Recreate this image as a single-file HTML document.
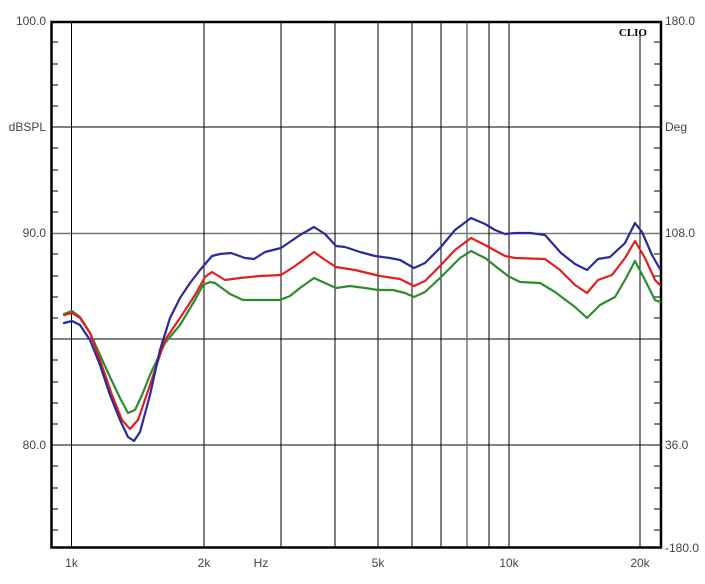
<!DOCTYPE html>
<html><head><meta charset="utf-8"><style>
body{margin:0;background:#fff;}
text{font-family:"Liberation Sans",sans-serif;font-size:12px;fill:#444;}
</style></head><body>
<svg width="705" height="579" viewBox="0 0 705 579" xmlns="http://www.w3.org/2000/svg">
<rect width="705" height="579" fill="#fff"/>
<g stroke="#000" stroke-width="1">
<line x1="51" y1="127" x2="661" y2="127"/>
<line x1="51" y1="233.5" x2="661" y2="233.5" stroke="#777" stroke-width="1.5"/>
<line x1="51" y1="339" x2="661" y2="339"/>
<line x1="51" y1="445" x2="661" y2="445"/>
<line x1="71.5" y1="21" x2="71.5" y2="548"/>
<line x1="204" y1="21" x2="204" y2="548"/>
<line x1="281" y1="21" x2="281" y2="548"/>
<line x1="335" y1="21" x2="335" y2="548"/>
<line x1="378" y1="21" x2="378" y2="548"/>
<line x1="412" y1="21" x2="412" y2="548"/>
<line x1="441" y1="21" x2="441" y2="548"/>
<line x1="467" y1="21" x2="467" y2="548" stroke="#777" stroke-width="1.5"/>
<line x1="489" y1="21" x2="489" y2="548"/>
<line x1="509" y1="21" x2="509" y2="548"/>
<line x1="640" y1="32" x2="640" y2="548"/>
</g>
<g stroke="#000" stroke-width="1">
<line x1="51" y1="42" x2="58" y2="42"/><line x1="51" y1="64" x2="58" y2="64"/><line x1="51" y1="85" x2="58" y2="85"/><line x1="51" y1="106" x2="58" y2="106"/>
<line x1="51" y1="148" x2="58" y2="148"/><line x1="51" y1="170" x2="58" y2="170"/><line x1="51" y1="191" x2="58" y2="191"/><line x1="51" y1="212" x2="58" y2="212"/>
<line x1="51" y1="254" x2="58" y2="254"/><line x1="51" y1="276" x2="58" y2="276"/><line x1="51" y1="297" x2="58" y2="297"/><line x1="51" y1="318" x2="58" y2="318"/>
<line x1="51" y1="360" x2="58" y2="360"/><line x1="51" y1="382" x2="58" y2="382"/><line x1="51" y1="403" x2="58" y2="403"/><line x1="51" y1="424" x2="58" y2="424"/>
<line x1="51" y1="466" x2="58" y2="466"/><line x1="51" y1="488" x2="58" y2="488"/><line x1="51" y1="509" x2="58" y2="509"/><line x1="51" y1="530" x2="58" y2="530"/>
<line x1="654" y1="42" x2="661" y2="42"/><line x1="654" y1="64" x2="661" y2="64"/><line x1="654" y1="85" x2="661" y2="85"/><line x1="654" y1="106" x2="661" y2="106"/>
<line x1="654" y1="148" x2="661" y2="148"/><line x1="654" y1="170" x2="661" y2="170"/><line x1="654" y1="191" x2="661" y2="191"/><line x1="654" y1="212" x2="661" y2="212"/>
<line x1="654" y1="254" x2="661" y2="254"/><line x1="654" y1="276" x2="661" y2="276"/><line x1="654" y1="297" x2="661" y2="297"/><line x1="654" y1="318" x2="661" y2="318"/>
<line x1="654" y1="360" x2="661" y2="360"/><line x1="654" y1="382" x2="661" y2="382"/><line x1="654" y1="403" x2="661" y2="403"/><line x1="654" y1="424" x2="661" y2="424"/>
<line x1="654" y1="466" x2="661" y2="466"/><line x1="654" y1="488" x2="661" y2="488"/><line x1="654" y1="509" x2="661" y2="509"/><line x1="654" y1="530" x2="661" y2="530"/>
</g>
<rect x="51.5" y="22" width="609.5" height="525.5" fill="none" stroke="#000" stroke-width="2.5"/>
<g fill="none" stroke-width="2.2" stroke-linejoin="round" stroke-linecap="round">
<polyline stroke="#2e8b2e" points="64,314 72,311 80,317 90,333 100,355 110,377 120,398 128,413 135,410 142,395 150,375 165,343 180,325 195,300 203,285 210,282 215,283 230,294 243,300 260,300 280,300 290,296 300,288 314,278 325,283 336,288 350,286 365,288 378,290 393,290 405,293 414,297 425,292 440,278 460,258 471,251 485,258 508,276 520,282 540,283 555,292 575,307 587,318 600,305 615,297 625,280 635,261 645,280 655,300 660,302"/>
<polyline stroke="#e02020" points="64,315 72,313 80,318 90,333 100,360 112,395 122,420 130,429 138,420 150,385 165,340 180,318 195,295 205,277 212,272 225,280 240,278 260,276 281,275 295,266 314,252 325,260 336,267 355,270 380,276 400,279 414,286 425,281 440,266 455,250 471,238 485,245 505,256 515,258 545,259 560,270 575,285 587,293 598,280 612,275 625,258 635,241 645,258 655,280 660,285"/>
<polyline stroke="#2a2a9a" points="64,323 72,321 80,325 90,340 100,365 110,395 120,420 128,437 134,441 140,432 150,395 160,350 170,318 180,298 190,283 200,270 212,256 220,254 231,253 245,258 254,259 265,252 281,248 300,235 314,227 325,234 336,246 345,247 360,252 375,256 390,258 400,260 414,268 425,263 440,248 455,230 471,218 485,224 495,230 505,234 515,233 530,233 545,235 561,253 575,264 587,270 598,259 610,257 625,243 635,223 642,232 652,255 660,269"/>
</g>
<text x="46" y="25" text-anchor="end">100.0</text>
<text x="46" y="131" text-anchor="end">dBSPL</text>
<text x="46" y="237" text-anchor="end">90.0</text>
<text x="46" y="449" text-anchor="end">80.0</text>
<text x="665" y="25">180.0</text>
<text x="665" y="131">Deg</text>
<text x="665" y="237">108.0</text>
<text x="665" y="449">36.0</text>
<text x="665" y="552">-180.0</text>
<text x="71.5" y="567" text-anchor="middle">1k</text>
<text x="204" y="567" text-anchor="middle">2k</text>
<text x="261" y="567" text-anchor="middle">Hz</text>
<text x="378" y="567" text-anchor="middle">5k</text>
<text x="509" y="567" text-anchor="middle">10k</text>
<text x="640" y="567" text-anchor="middle">20k</text>
<text x="647" y="36" text-anchor="end" style="font-family:'Liberation Serif',serif;font-weight:bold;font-size:11px;fill:#000">CLIO</text>
</svg>
</body></html>
